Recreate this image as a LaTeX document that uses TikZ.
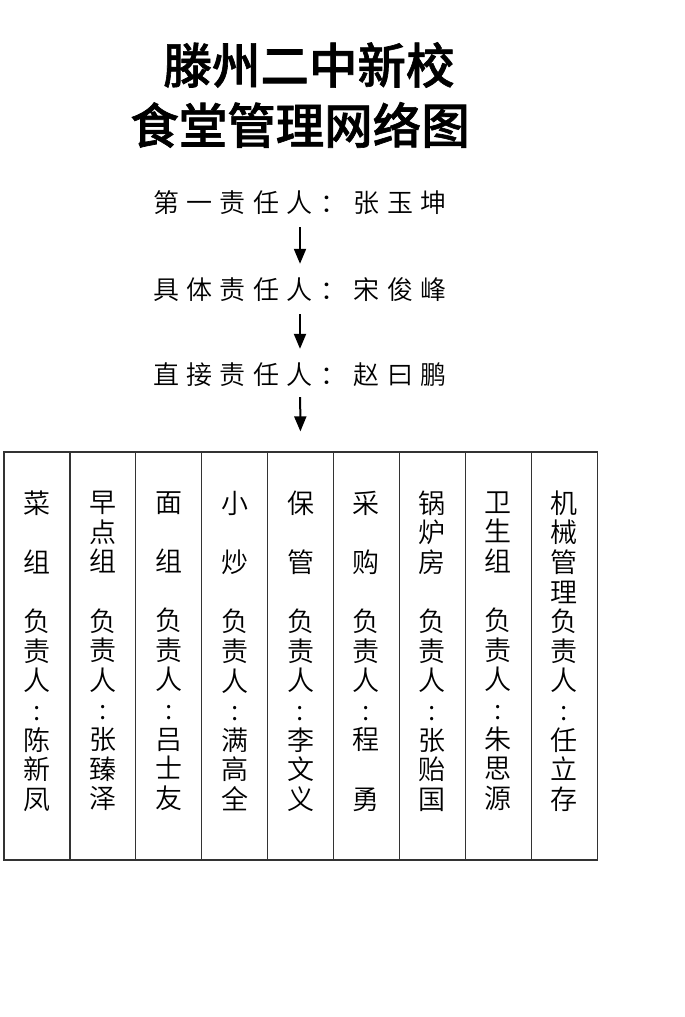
\documentclass[tikz,border=0pt]{standalone}
\usepackage{fontspec}
\setmainfont{Noto Sans CJK SC}[UprightFont={* DemiLight}]
\newfontfamily\titlefont{Noto Sans CJK SC}[UprightFont={* Medium}, FakeBold=1.3]
\usetikzlibrary{arrows.meta}
\newcommand\cc[1]{\makebox[33.5pt]{#1}}
\tikzset{
  titletext/.style={inner sep=0pt, font=\fontsize{48.5}{56}\titlefont},
  chaintext/.style={inner sep=0pt, font=\fontsize{26}{30}\selectfont},
  coltext/.style={inner sep=0pt, align=center, font=\fontsize{27}{29.6}\selectfont},
  colbox/.style={draw=black!80, line width=1.2pt, minimum width=65.9pt, minimum height=408pt, inner sep=0pt},
  arr/.style={line width=2pt, -{Triangle[length=15pt,width=12pt]}},
}
\begin{document}
\begin{tikzpicture}[x=1pt,y=-1pt]
\useasboundingbox (0,0) rectangle (685,1017);
\node[titletext] (title1) at (309,65) {滕州二中新校};
\node[titletext] (title2) at (300,125) {食堂管理网络图};
\node[chaintext] (l1) at (300,203) {\cc{第}\cc{一}\cc{责}\cc{任}\cc{人}\cc{：}\cc{张}\cc{玉}\cc{坤}};
\node[chaintext] (l2) at (300,290) {\cc{具}\cc{体}\cc{责}\cc{任}\cc{人}\cc{：}\cc{宋}\cc{俊}\cc{峰}};
\node[chaintext] (l3) at (300,375) {\cc{直}\cc{接}\cc{责}\cc{任}\cc{人}\cc{：}\cc{赵}\cc{曰}\cc{鹏}};
% column frames
\foreach \i in {1,...,9} {
  \node[colbox] (c\i) at ({4+65.9*(\i-0.5)},656) {};
}
% column texts
\node[coltext] (t1) at (c1|-0,651) {菜\\\mbox{}\\组\\\mbox{}\\负\\责\\人\\:\\陈\\新\\凤};
\node[coltext] (t2) at (c2|-0,651) {早\\点\\组\\\mbox{}\\负\\责\\人\\:\\张\\臻\\泽};
\node[coltext] (t3) at (c3|-0,651) {面\\\mbox{}\\组\\\mbox{}\\负\\责\\人\\:\\吕\\士\\友};
\node[coltext] (t4) at (c4|-0,651) {小\\\mbox{}\\炒\\\mbox{}\\负\\责\\人\\:\\满\\高\\全};
\node[coltext] (t5) at (c5|-0,651) {保\\\mbox{}\\管\\\mbox{}\\负\\责\\人\\:\\李\\文\\义};
\node[coltext] (t6) at (c6|-0,651) {采\\\mbox{}\\购\\\mbox{}\\负\\责\\人\\:\\程\\\mbox{}\\勇};
\node[coltext] (t7) at (c7|-0,651) {锅\\炉\\房\\\mbox{}\\负\\责\\人\\:\\张\\贻\\国};
\node[coltext] (t8) at (c8|-0,651) {卫\\生\\组\\\mbox{}\\负\\责\\人\\:\\朱\\思\\源};
\node[coltext] (t9) at (c9|-0,651) {机\\械\\管\\理\\负\\责\\人\\:\\任\\立\\存};
% arrows
\draw[arr, shorten <=12pt, shorten >=14pt] (l1) -- (l2);
\draw[arr, shorten <=12pt, shorten >=14pt] (l2) -- (l3);
\draw[arr, shorten <=10pt, shorten >=20pt] (l3) -- (c5.north);
\end{tikzpicture}
\end{document}
